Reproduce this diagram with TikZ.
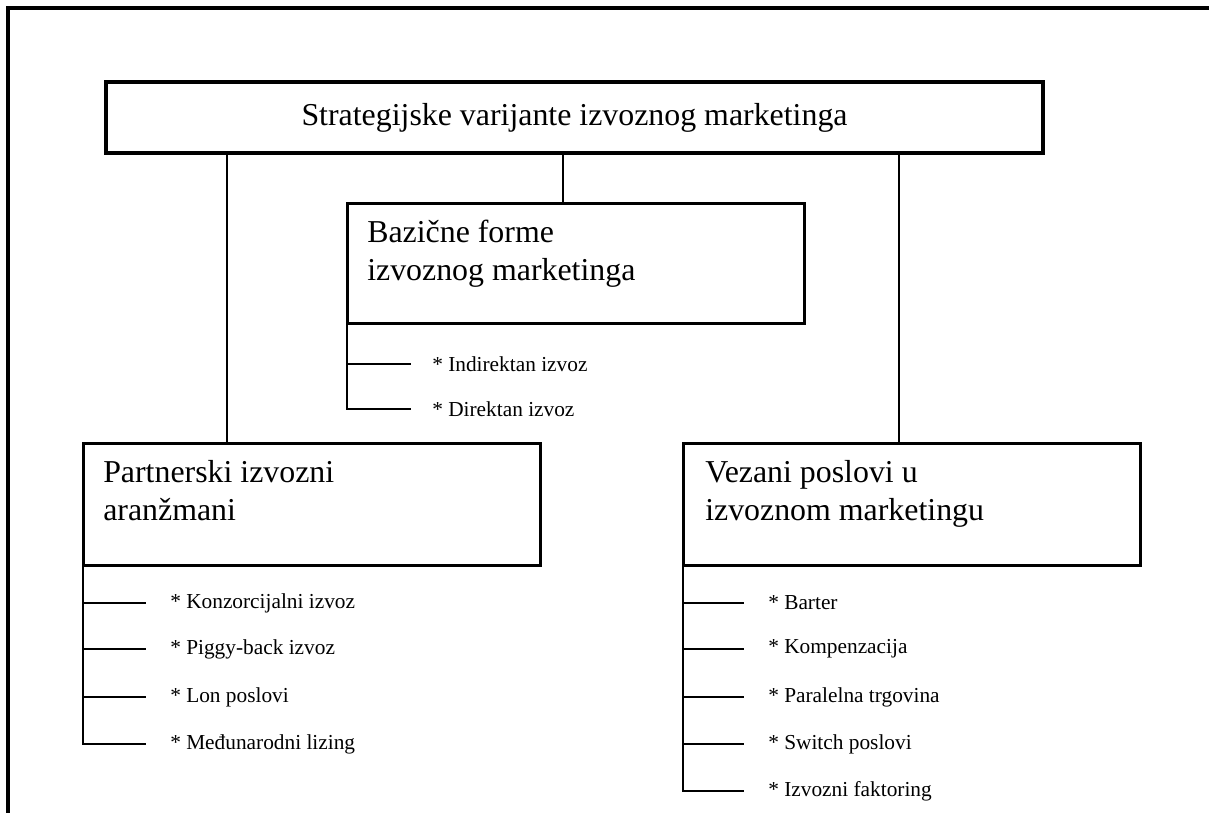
\documentclass[tikz,border=0pt]{standalone}
\usepackage{fontspec}
\setmainfont{Liberation Serif}
\usetikzlibrary{positioning}

\begin{document}
\begin{tikzpicture}[
    x=0.75pt, y=-0.75pt,
    % boxes and their titles
    topbox/.style={draw, line width=2.6pt, inner sep=0pt, minimum width=702.75pt, minimum height=53.25pt, font=\fontsize{23.9}{28}\selectfont},
    formbox/.style={draw, line width=2.6pt, inner sep=0pt, anchor=north west, minimum width=342.75pt, minimum height=90pt},
    boxtext/.style={anchor=base west, align=left, inner sep=0pt, font=\fontsize{23.9}{28.1}\selectfont},
    % list entries under a box
    item/.style={anchor=west, inner sep=0pt, font=\fontsize{16}{19}\selectfont},
    conn/.style={line width=1.4pt},
    frame/.style={line width=2.6pt}
]
\useasboundingbox (0,0) rectangle (1209,813);

% page frame (open at the right and at the bottom)
\draw[frame] (8,813) -- (8,8) -- (1209,8);

% main box
\node[topbox] (strat) at (574.5,117.5) {Strategijske varijante izvoznog marketinga};

% the three forms (text placed by the baseline of its last line)
\node[formbox] (baz) at (346,202) {};
\node[boxtext] (baztxt) at (367,280) {Bazične forme\\izvoznog marketinga};

\node[formbox, minimum height=91.5pt] (part) at (82,442) {};
\node[boxtext] (parttxt) at (103,520) {Partnerski izvozni\\aranžmani};

\node[formbox, minimum height=91.5pt] (vez) at (682,442) {};
\node[boxtext] (veztxt) at (705,520) {Vezani poslovi u\\izvoznom marketingu};

% drops from the main box
\coordinate (partin) at (227,442);
\coordinate (bazin) at (563,202);
\coordinate (vezin) at (899,442);
\draw[conn] (partin |- strat.south) -- (partin);
\draw[conn] (bazin |- strat.south) -- (bazin);
\draw[conn] (vezin |- strat.south) -- (vezin);

% basic forms
\foreach \y/\txt [count=\i] in {364/Indirektan izvoz, 409/Direktan izvoz} {
  \node[item] (bitem\i) at (432,\y) {* \txt};
  \draw[conn] (bitem\i.west -| baz.south west) -- ([xshift=-15.75pt]bitem\i.west);
}
\draw[conn] ([xshift=0.75pt]baz.south west) -- ([xshift=0.75pt]bitem2.west -| baz.south west);

% partner arrangements
\foreach \y/\txt [count=\i] in {603/Konzorcijalni izvoz, 649/Piggy-back izvoz, 697/Lon poslovi, 744/Međunarodni lizing} {
  \node[item] (pitem\i) at (170,\y) {* \txt};
  \draw[conn] (pitem\i.west -| part.south west) -- ([xshift=-18pt]pitem\i.west);
}
\draw[conn] ([xshift=0.75pt]part.south west) -- ([xshift=0.75pt]pitem4.west -| part.south west);

% tied deals
\foreach \y/\txt [count=\i] in {603/Barter, 649/Kompenzacija, 697/Paralelna trgovina, 744/Switch poslovi, 791/Izvozni faktoring} {
  \node[item] (vitem\i) at (768,\y) {* \txt};
  \draw[conn] (vitem\i.west -| vez.south west) -- ([xshift=-18pt]vitem\i.west);
}
\draw[conn] ([xshift=0.75pt]vez.south west) -- ([xshift=0.75pt]vitem5.west -| vez.south west);

\end{tikzpicture}
\end{document}
